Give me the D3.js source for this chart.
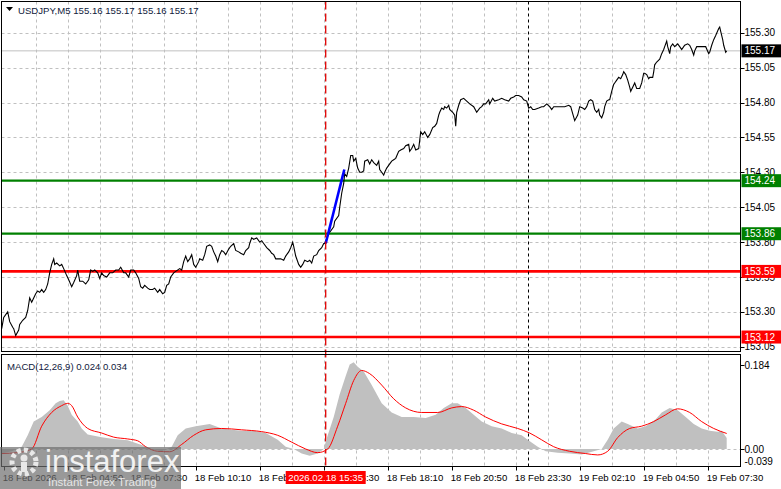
<!DOCTYPE html>
<html><head><meta charset="utf-8">
<script src="https://cdn.jsdelivr.net/npm/d3@7"></script>
<style>
body{margin:0;background:#fff;}
svg{display:block;}
text{font-family:"Liberation Sans",Arial,sans-serif;}
</style>
</head><body><svg id="c" width="781" height="489"></svg>
<script>
// ---------- DATA ----------
const symbol = "USDJPY,M5";
const ohlc = [155.16, 155.17, 155.16, 155.17];
const startTime = new Date(2026, 1, 18, 2, 5); // bar 0
const barMinutes = 5;
const barCount = 369;
// [bar index, close]
const priceSeries = [[0,153.18],[1,153.26],[3,153.30],[4,153.23],[5.5,153.19],[6,153.18],[7,153.13],[8.5,153.17],[9,153.21],[10.5,153.24],[12,153.26],[13,153.31],[14,153.40],[15,153.37],[16,153.40],[17,153.43],[18,153.45],[19,153.44],[20,153.46],[21,153.44],[22,153.46],[23,153.50],[24,153.58],[25,153.64],[26,153.68],[26.5,153.64],[27.5,153.65],[29,153.63],[30,153.64],[31,153.61],[32.5,153.56],[33.5,153.53],[35,153.48],[36,153.51],[37.5,153.56],[38,153.60],[39,153.52],[40.5,153.52],[42,153.50],[43.5,153.53],[44.5,153.60],[45.5,153.59],[46.5,153.60],[48,153.58],[49,153.54],[50,153.58],[51,153.56],[52.5,153.55],[54,153.58],[55.5,153.58],[57,153.60],[58.5,153.60],[59.5,153.62],[61,153.58],[62,153.58],[63.5,153.55],[64.5,153.60],[66,153.60],[67,153.58],[68.5,153.54],[69.5,153.48],[70.5,153.47],[71.5,153.49],[73,153.47],[74,153.46],[75.5,153.46],[76.5,153.47],[78,153.44],[79,153.46],[80.5,153.43],[81.5,153.44],[82.5,153.49],[83.5,153.50],[84.5,153.55],[86,153.58],[87,153.59],[89,153.61],[90,153.60],[91,153.66],[92,153.70],[93,153.66],[94,153.68],[95,153.71],[96,153.64],[97,153.62],[98.5,153.66],[99,153.68],[100.5,153.67],[101.5,153.71],[102.5,153.77],[104,153.78],[105,153.77],[106,153.73],[107,153.70],[108,153.66],[109,153.71],[110,153.74],[111,153.73],[112,153.71],[113.5,153.75],[114.5,153.77],[116,153.79],[117,153.74],[118.5,153.73],[119.5,153.72],[121,153.71],[122,153.74],[123.5,153.76],[124,153.79],[125,153.83],[126,153.82],[127.5,153.83],[129,153.80],[130,153.81],[131,153.79],[132.5,153.76],[134,153.74],[135,153.72],[136,153.71],[137,153.68],[138.5,153.68],[139.5,153.68],[141,153.67],[142,153.70],[143.5,153.73],[144.5,153.76],[145.5,153.80],[146,153.77],[147,153.70],[148.5,153.64],[149.5,153.62],[150.5,153.64],[151.5,153.67],[153,153.66],[154,153.67],[155,153.65],[156,153.70],[157.5,153.71],[158.5,153.74],[160,153.76],[161,153.79],[161.5,153.79],[163.5,153.86],[166,153.91],[166.5,153.95],[168.5,153.99],[169,154.05],[170,154.15],[171,154.22],[171.5,154.29],[172.5,154.27],[173.5,154.33],[174.5,154.42],[175.5,154.42],[176,154.38],[177,154.40],[178,154.33],[179,154.30],[180,154.30],[181,154.31],[181.5,154.38],[183,154.39],[184,154.36],[185,154.39],[186,154.37],[187.5,154.35],[188.5,154.38],[189,154.32],[190,154.30],[191,154.28],[191.5,154.30],[192.5,154.33],[194,154.36],[195,154.38],[196,154.39],[197,154.40],[198.5,154.45],[199.5,154.46],[201,154.47],[202,154.49],[203.5,154.50],[204,154.45],[205,154.47],[206,154.50],[207,154.46],[208.5,154.47],[209,154.53],[209.5,154.59],[210.5,154.57],[211.5,154.59],[213,154.55],[214,154.57],[215.5,154.62],[216.5,154.63],[217.5,154.65],[218.5,154.71],[219,154.73],[220,154.76],[221,154.75],[221.5,154.77],[222.5,154.76],[223.5,154.78],[224,154.75],[225.5,154.73],[226.5,154.71],[227,154.63],[227.5,154.73],[228.5,154.78],[229.5,154.82],[231,154.83],[232.5,154.81],[234,154.79],[236,154.77],[237.5,154.73],[239,154.76],[240,154.77],[241,154.79],[242,154.79],[243.5,154.82],[244,154.79],[245.5,154.83],[246.5,154.81],[248.5,154.82],[250,154.83],[251.5,154.82],[253.5,154.81],[254.5,154.83],[256,154.84],[257,154.85],[258.5,154.85],[260,154.84],[261,154.82],[262.5,154.81],[263.5,154.76],[264.5,154.77],[265.5,154.75],[266.5,154.75],[268.5,154.76],[270,154.77],[271,154.77],[272.5,154.79],[274,154.77],[275,154.75],[276,154.77],[277.5,154.77],[279,154.77],[280.5,154.77],[281.5,154.77],[283.5,154.78],[284.5,154.77],[285.5,154.72],[286.5,154.67],[288,154.71],[289,154.77],[290.5,154.76],[291.5,154.75],[292.5,154.77],[293.5,154.81],[294.5,154.82],[295.5,154.81],[296.5,154.75],[297.5,154.73],[298.5,154.75],[299,154.71],[300,154.69],[301,154.73],[301.5,154.77],[302.5,154.81],[303.5,154.82],[304,154.82],[305,154.88],[306,154.93],[306.5,154.94],[307.5,154.96],[308.5,154.98],[309.5,154.97],[310.5,155.00],[311,155.02],[312,155.00],[313,154.96],[314,154.91],[314.5,154.88],[315.5,154.91],[316.5,154.94],[317.5,154.90],[319,154.90],[320,154.94],[321,155.01],[321.5,155.01],[322.5,155.00],[323.5,154.97],[324,154.98],[325.5,154.98],[326,155.02],[326.5,155.07],[327.5,155.09],[329,155.11],[330,155.15],[331,155.18],[331.5,155.20],[332.5,155.24],[333,155.20],[334,155.15],[334.5,155.20],[335.5,155.22],[336.5,155.20],[338,155.22],[339,155.20],[340,155.18],[341,155.20],[341.5,155.21],[343,155.22],[344,155.21],[345,155.18],[346,155.14],[346.5,155.17],[347.5,155.20],[349,155.20],[350,155.20],[351,155.20],[352,155.20],[353.5,155.15],[354,155.16],[355,155.21],[356,155.25],[357,155.28],[358.5,155.33],[359,155.34],[359.5,155.31],[360.5,155.25],[361,155.21],[362,155.16],[362.5,155.17]];

// MACD main (histogram) [bar, value]
const macdMain = [[0,-0.01],[5,-0.005],[10,0.005],[13,0.03],[16,0.06],[20,0.07],[24,0.085],[27,0.1],[29,0.105],[31,0.107],[33,0.095],[35,0.075],[38,0.06],[40,0.045],[43,0.032],[50,0.026],[56,0.022],[63,0.019],[70,0.009],[75,0.0],[80,-0.005],[85,0.005],[88,0.03],[92,0.045],[97,0.05],[104,0.055],[110,0.045],[115,0.042],[120,0.04],[126,0.04],[132,0.035],[138,0.02],[142,0.005],[146,0.0],[150,-0.01],[154,-0.015],[158,-0.01],[161,0.0],[163,0.03],[166,0.07],[169,0.12],[172,0.16],[174,0.185],[176,0.19],[178,0.18],[181,0.17],[185,0.14],[190,0.10],[195,0.08],[200,0.07],[206,0.07],[212,0.068],[217,0.075],[221,0.09],[225,0.1],[228,0.1],[232,0.09],[236,0.075],[240,0.06],[245,0.05],[250,0.045],[255,0.035],[260,0.03],[263,0.02],[268,0.005],[272,-0.005],[278,-0.008],[284,-0.01],[290,-0.012],[296,-0.005],[300,0.0],[303,0.02],[306,0.045],[310,0.06],[313,0.055],[318,0.045],[322,0.05],[327,0.065],[330,0.08],[334,0.09],[338,0.085],[342,0.07],[346,0.055],[350,0.045],[354,0.04],[358,0.038],[360,0.04],[362.5,0.024]];
// MACD signal [bar, value]
const macdSignal = [[0,-0.01],[8,-0.008],[15,0.0],[20,0.05],[25,0.08],[30,0.095],[33,0.1],[35,0.095],[38,0.07],[43,0.045],[50,0.035],[56,0.026],[63,0.022],[68,0.018],[72,0.005],[78,-0.005],[84,-0.006],[90,0.01],[96,0.03],[102,0.042],[110,0.045],[120,0.042],[130,0.038],[138,0.03],[145,0.015],[152,0.0],[158,-0.008],[163,0.0],[168,0.05],[172,0.1],[176,0.15],[180,0.172],[184,0.165],[190,0.14],[196,0.11],[202,0.09],[210,0.08],[218,0.08],[225,0.09],[230,0.093],[236,0.085],[242,0.07],[250,0.055],[258,0.045],[264,0.035],[270,0.02],[276,0.005],[284,-0.005],[292,-0.01],[298,-0.013],[303,-0.005],[308,0.025],[314,0.045],[320,0.05],[326,0.06],[332,0.075],[338,0.088],[344,0.08],[350,0.06],[356,0.045],[362.5,0.034]];

const priceTicks = [155.30,155.05,154.80,154.55,154.30,154.05,153.80,153.55,153.30,153.05];
const greenLevels = [154.24, 153.86];
const redLevels = [153.59, 153.12];
const lastPrice = 155.17;
const trendLine = [[162, 153.79], [171.3, 154.32]];
const markerBar = 162;       // 2026.02.18 15:35
const daySeparatorBar = 263; // 19 Feb 00:00
const macdTicks = [0.184, 0.00, -0.039];
const macdLegend = "MACD(12,26,9) 0.024 0.034";

// ---------- LAYOUT ----------
const L = 1.5, R = 740.5;
const mainTop = 1.5, mainBot = 351.5;
const macdTop = 354.5, macdBot = 466.5;
const FS = 9.6;

const svg = d3.select("#c");
const x = d3.scaleLinear().domain([0, barCount]).range([1.7, 739.7]);
const y = d3.scaleLinear().domain([155.30, 153.05]).range([32.7, 346.8]);
const ym = d3.scaleLinear().domain([0.184, 0]).range([365, 449]);
const barTime = b => new Date(startTime.getTime() + b * barMinutes * 60000);

const defs = svg.append("defs");
defs.append("clipPath").attr("id","cm").append("rect").attr("x",L).attr("y",mainTop).attr("width",R-L).attr("height",mainBot-mainTop);
defs.append("clipPath").attr("id","cd").append("rect").attr("x",L).attr("y",macdTop).attr("width",R-L).attr("height",macdBot-macdTop);

const gridColor = "#c0c0c0";
const gridBars = d3.range(17, barCount, 16);
[[mainTop, mainBot],[macdTop, macdBot]].forEach(([t,b]) => {
  svg.append("g").selectAll("line").data(gridBars).join("line")
    .attr("x1", d => Math.round(x(d))+0.5).attr("x2", d => Math.round(x(d))+0.5)
    .attr("y1", t).attr("y2", b)
    .attr("stroke", gridColor).attr("stroke-dasharray","3,3");
});
svg.append("g").selectAll("line").data(priceTicks).join("line")
  .attr("x1", L).attr("x2", R)
  .attr("y1", d => Math.round(y(d))+0.5).attr("y2", d => Math.round(y(d))+0.5)
  .attr("stroke", gridColor).attr("stroke-dasharray","3,3");
svg.append("line").attr("x1",L).attr("x2",R).attr("y1",Math.round(ym(0))+0.5).attr("y2",Math.round(ym(0))+0.5)
  .attr("stroke", gridColor).attr("stroke-dasharray","3,3");

// ---------- MAIN PANEL ----------
const gm = svg.append("g").attr("clip-path","url(#cm)");
gm.append("line").attr("x1",L).attr("x2",R).attr("y1",y(lastPrice)).attr("y2",y(lastPrice)).attr("stroke","#c0c0c0");
gm.selectAll(".gl").data(greenLevels).join("line").attr("x1",L).attr("x2",R)
  .attr("y1",d=>y(d)).attr("y2",d=>y(d)).attr("stroke","#008000").attr("stroke-width",2.2);
gm.selectAll(".rl").data(redLevels).join("line").attr("x1",L).attr("x2",R)
  .attr("y1",d=>y(d)).attr("y2",d=>y(d)).attr("stroke","#ff0000").attr("stroke-width",2.6);
svg.append("line").attr("x1",x(markerBar)).attr("x2",x(markerBar)).attr("y1",mainTop).attr("y2",macdBot)
  .attr("stroke","#e00000").attr("stroke-width",1.3).attr("stroke-dasharray","8,4");
svg.append("line").attr("x1",Math.round(x(daySeparatorBar))+0.5).attr("x2",Math.round(x(daySeparatorBar))+0.5).attr("y1",mainTop).attr("y2",macdBot)
  .attr("stroke","#000").attr("stroke-width",1).attr("stroke-dasharray","3,3");
gm.append("path").datum(priceSeries)
  .attr("d", d3.line().x(d=>x(d[0])).y(d=>y(d[1])))
  .attr("fill","none").attr("stroke","#000").attr("stroke-width",1.1);
gm.append("path").datum(trendLine)
  .attr("d", d3.line().x(d=>x(d[0])).y(d=>y(d[1])))
  .attr("stroke","#0000ff").attr("stroke-width",2.6);

// ---------- MACD PANEL ----------
const gd = svg.append("g").attr("clip-path","url(#cd)");
gd.append("path").datum(macdMain)
  .attr("d", d3.area().x(d=>x(d[0])).y0(ym(0)).y1(d=>ym(d[1])))
  .attr("fill","#c0c0c0");
gd.append("path").datum(macdSignal)
  .attr("d", d3.line().x(d=>x(d[0])).y(d=>ym(d[1])).curve(d3.curveMonotoneX))
  .attr("fill","none").attr("stroke","#ff0000").attr("stroke-width",1);

// ---------- FRAMES ----------
svg.append("rect").attr("x",L).attr("y",mainTop).attr("width",R-L).attr("height",mainBot-mainTop).attr("fill","none").attr("stroke","#000");
svg.append("rect").attr("x",L).attr("y",macdTop).attr("width",R-L).attr("height",macdBot-macdTop).attr("fill","none").attr("stroke","#000");

// ---------- PRICE AXIS ----------
const pa = svg.append("g");
pa.selectAll("line").data(priceTicks).join("line")
  .attr("x1",R).attr("x2",R+4).attr("y1",d=>Math.round(y(d))+0.5).attr("y2",d=>Math.round(y(d))+0.5).attr("stroke","#000");
pa.selectAll("text").data(priceTicks).join("text")
  .attr("x",R+4).attr("y",d=>y(d)).attr("dy","0.35em").attr("font-size",10).attr("fill","#000")
  .text(d=>d.toFixed(2));
function axisBox(v, fill, yy){
  svg.append("rect").attr("x",R+1).attr("y",yy-6.5).attr("width",781-R-1).attr("height",13).attr("fill",fill);
  svg.append("text").attr("x",R+4).attr("y",yy).attr("dy","0.35em").attr("font-size",10).attr("fill","#fff").text(v.toFixed(2));
}
axisBox(lastPrice, "#000", y(lastPrice));
greenLevels.forEach(v=>axisBox(v,"#008000",y(v)));
redLevels.forEach(v=>axisBox(v,"#ff0000",y(v)));

svg.append("g").selectAll("line").data(macdTicks.slice(0,2)).join("line")
  .attr("x1",R).attr("x2",R+4).attr("y1",d=>Math.round(ym(d))+0.5).attr("y2",d=>Math.round(ym(d))+0.5).attr("stroke","#000");
svg.append("g").selectAll("text").data(macdTicks).join("text")
  .attr("x",R+4).attr("y",(d,i)=> i===2 ? 461 : ym(d)).attr("dy","0.35em").attr("font-size",10)
  .text(d=> d===0 ? "0.00" : d3.format(".3f")(d).replace("−","-"));

// ---------- TIME AXIS ----------
const labelBars = d3.range(1, barCount, 32);
const fmt = d3.timeFormat("%d %b %H:%M");
svg.append("g").selectAll("line").data(labelBars).join("line")
  .attr("x1",d=>Math.round(x(d))+0.5).attr("x2",d=>Math.round(x(d))+0.5).attr("y1",macdBot).attr("y2",macdBot+4).attr("stroke","#000");
svg.append("g").selectAll("text").data(labelBars).join("text")
  .attr("x",d=>x(d)-1).attr("y",481).attr("font-size",FS)
  .text((d,i)=> i===0 ? d3.timeFormat("%d %b %Y")(barTime(d)) : fmt(barTime(d)));
const mx = x(markerBar);
svg.append("rect").attr("x",mx-40).attr("y",471).attr("width",80).attr("height",13).attr("fill","#ff0000");
svg.append("text").attr("x",mx).attr("y",477.5).attr("dy","0.35em").attr("text-anchor","middle").attr("font-size",FS).attr("fill","#fff")
  .text(d3.timeFormat("%Y.%m.%d %H:%M")(barTime(markerBar)));

// ---------- LEGENDS ----------
svg.append("path").attr("d","M6,7 L13,7 L9.5,11 Z").attr("fill","#000");
svg.append("text").attr("x",18).attr("y",14).attr("font-size",FS).attr("fill","#0f1a3c")
  .text(symbol + "  " + ohlc.map(v=>v.toFixed(2)).join(" "));
svg.append("text").attr("x",7).attr("y",370).attr("font-size",FS).attr("fill","#0f1a3c").text(macdLegend);

// ---------- WATERMARK ----------
const wm = svg.append("g");
wm.append("rect").attr("x",0).attr("y",447).attr("width",181).attr("height",42).attr("fill","#6e6e6e").attr("opacity",0.7);
const ic = wm.append("g").attr("transform","translate(24,462)").attr("fill","#e8e8e8");
ic.append("circle").attr("r",12).attr("fill","none").attr("stroke","#e8e8e8").attr("stroke-width",5).attr("stroke-dasharray","4,3");
ic.append("circle").attr("cy",-4).attr("r",3.5);
ic.append("rect").attr("x",-3).attr("y",0).attr("width",6).attr("height",10);
wm.append("text").attr("x",45).attr("y",472).attr("font-size",31).attr("font-family","Lato, 'Open Sans', sans-serif").attr("fill","#f2f2f2").text("instaforex");
wm.append("text").attr("x",48).attr("y",486).attr("font-size",11.5).attr("font-family","Lato, 'Open Sans', sans-serif").attr("fill","#e6e6e6").text("Instant Forex Trading");
</script>
</body></html>
